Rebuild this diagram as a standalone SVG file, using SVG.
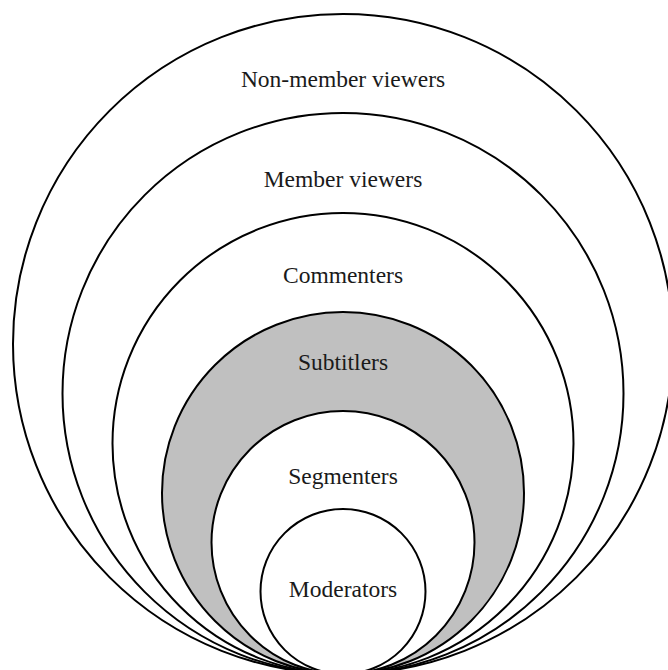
<svg xmlns="http://www.w3.org/2000/svg" width="668" height="670" viewBox="0 0 668 670">
<style>
.c{fill:#ffffff;stroke:#000000;stroke-width:2}
.g{fill:#c0c0c0;stroke:#000000;stroke-width:2}
.t{font-family:"Liberation Serif","DejaVu Serif",serif;font-size:23.5px;fill:#1a1a1a;text-anchor:middle}
</style>
<rect width="668" height="670" fill="#ffffff"/>
<g id="non-member-viewers"><circle class="c" cx="343" cy="344" r="330"/><text class="t" x="343" y="87">Non-member viewers</text></g>
<g id="member-viewers"><circle class="c" cx="343" cy="393.5" r="280.5"/><text class="t" x="343" y="187">Member viewers</text></g>
<g id="commenters"><circle class="c" cx="343" cy="443.5" r="230.5"/><text class="t" x="343" y="283">Commenters</text></g>
<g id="subtitlers"><circle class="g" cx="343" cy="493" r="181"/><text class="t" x="343" y="370">Subtitlers</text></g>
<g id="segmenters"><circle class="c" cx="343" cy="542.5" r="131.5"/><text class="t" x="343" y="484">Segmenters</text></g>
<g id="moderators"><circle class="c" cx="343" cy="591.5" r="82.5"/><text class="t" x="343" y="597">Moderators</text></g>
<g id="connectors"></g>
</svg>
